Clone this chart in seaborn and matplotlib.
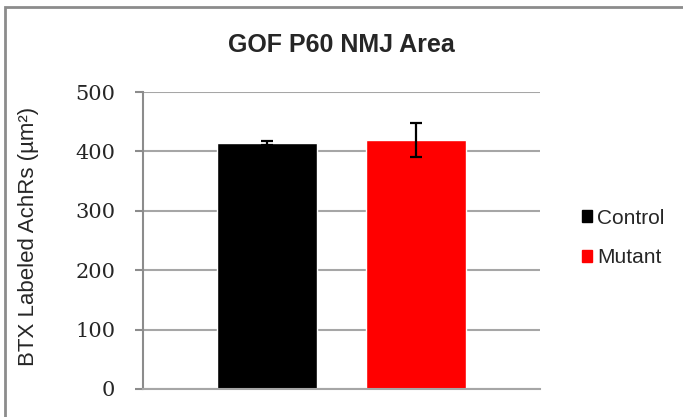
import matplotlib
matplotlib.use("Agg")
import matplotlib.pyplot as plt
import seaborn as sns
import pandas as pd
from matplotlib.patches import Rectangle

groups = ["Control", "Mutant"]
area_means = [414, 419.5]
area_errors = [3, 28.5]
bar_colors = ["#000000", "#ff0000"]
y_ticks = [0, 100, 200, 300, 400, 500]

df = pd.DataFrame({"group": groups, "area": area_means, "err": area_errors})

sns.set_style("white")
fig = plt.figure(figsize=(6.83, 4.17), dpi=100)
ax = fig.add_axes([143 / 683, 1 - 389 / 417, 397 / 683, 297 / 417])

sns.barplot(data=df, x="group", y="area", hue="group", palette=bar_colors,
            width=0.673, errorbar=None, legend=False, ax=ax, saturation=1)
ax.errorbar(range(len(groups)), df["area"], yerr=df["err"], fmt="none",
            ecolor="black", elinewidth=1.6, capsize=4.5, capthick=1.6)

ax.set_xlim(-0.835, 1.838)
ax.set_ylim(0, 500)
ax.set_yticks(y_ticks)
ax.set_yticklabels([str(t) for t in y_ticks], family="DejaVu Serif", fontsize=15)
ax.tick_params(axis="y", length=6, width=1.5, color="#8c8c8c", pad=14, left=True)
ax.set_xticks([])
ax.set_xlabel("")
ax.set_ylabel("BTX Labeled AchRs (µm²)", family="Liberation Sans", fontsize=16, labelpad=26)
ax.yaxis.label.set_y(0.5 + 4 / 297)
ax.grid(axis="y", color="#a6a6a6", linewidth=1.5)
ax.set_axisbelow(True)
for side in ["top", "right"]:
    ax.spines[side].set_visible(False)
ax.spines["left"].set_color("#8c8c8c")
ax.spines["left"].set_linewidth(1.5)
ax.spines["bottom"].set_color("#a6a6a6")
ax.spines["bottom"].set_linewidth(1.5)

fig.text(341 / 683, 1 - 45 / 417, "GOF P60 NMJ Area", ha="center", va="center",
         family="Liberation Sans", fontsize=18, fontweight="bold")

handles = [Rectangle((0, 0), 1, 1, color=c) for c in bar_colors]
fig.legend(handles, groups, loc="center left", bbox_to_anchor=(563 / 683, 1 - 238 / 417),
           frameon=False, prop={"family": "Liberation Sans", "size": 15},
           handlelength=0.5, handleheight=0.5, handletextpad=0.25, labelspacing=1.0)

fig.patches.append(Rectangle((5 / 683, -0.5), 2, 1.5 - 7 / 417, transform=fig.transFigure,
                             fill=False, edgecolor="#8c8c8c", linewidth=2, zorder=10))

fig.savefig("out.png", dpi=100)
